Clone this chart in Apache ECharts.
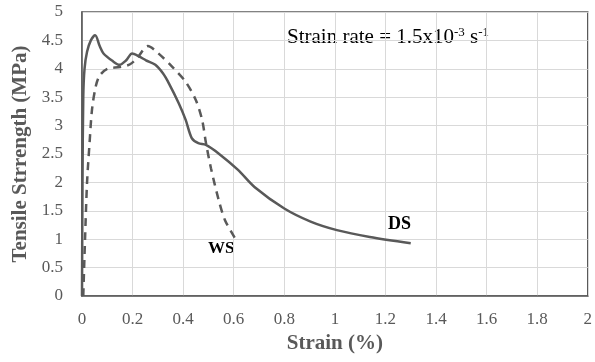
<!DOCTYPE html>
<html><head><meta charset="utf-8">
<script src="https://cdn.jsdelivr.net/npm/echarts@6/dist/echarts.min.js"></script>
<style>html,body{margin:0;padding:0;background:#fff}#c{width:595px;height:362px}</style>
</head><body><div id="c"></div>
<script>
var dsData = [[0,0],[0.002,2.0],[0.005,3.5],[0.01,4.0],[0.02,4.3],[0.035,4.5],[0.052,4.59],[0.07,4.4],[0.085,4.27],[0.12,4.14],[0.148,4.07],[0.175,4.15],[0.198,4.27],[0.225,4.22],[0.253,4.15],[0.29,4.07],[0.32,3.92],[0.344,3.74],[0.383,3.39],[0.41,3.1],[0.434,2.78],[0.46,2.69],[0.49,2.66],[0.54,2.51],[0.617,2.22],[0.682,1.92],[0.8,1.54],[0.904,1.31],[1.008,1.16],[1.138,1.04],[1.3,0.93]];
var wsData = [[0.005,0],[0.012,1.0],[0.02,2.0],[0.03,2.7],[0.04,3.3],[0.055,3.7],[0.07,3.88],[0.1,4.0],[0.15,4.03],[0.19,4.08],[0.22,4.2],[0.26,4.4],[0.3,4.28],[0.36,4.02],[0.41,3.77],[0.45,3.45],[0.475,3.1],[0.49,2.7],[0.51,2.25],[0.54,1.7],[0.565,1.34],[0.605,1.02]];
var seriesNames = ['DS','WS'];
var xTitle = 'Strain (%)';
var yTitle = 'Tensile Strrength (MPa)';
var chart = echarts.init(document.getElementById('c'));
var font = 'Liberation Serif, Times New Roman, serif';
var gray = '#595959';
chart.setOption({
  animation:false,
  grid:{left:82,right:1,top:12,bottom:66,show:true,borderColor:gray,borderWidth:1.5},
  xAxis:{type:'value',min:0,max:2,interval:0.2,
    name:xTitle,nameLocation:'middle',nameGap:33,
    nameTextStyle:{fontFamily:font,fontSize:21,fontWeight:'bold',color:gray},
    axisLine:{lineStyle:{color:gray,width:1.5}},axisTick:{show:false},
    axisLabel:{fontFamily:font,fontSize:17,color:gray,margin:15},
    splitLine:{lineStyle:{color:'#d9d9d9',width:1}}},
  yAxis:{type:'value',min:0,max:5,interval:0.5,
    name:yTitle,nameLocation:'middle',nameGap:50,
    nameTextStyle:{fontFamily:font,fontSize:21,fontWeight:'bold',color:gray},
    axisLine:{show:true,lineStyle:{color:gray,width:1.5}},axisTick:{show:false},
    axisLabel:{fontFamily:font,fontSize:17,color:gray,margin:19},
    splitLine:{lineStyle:{color:'#d9d9d9',width:1}}},
  series:[
    {name:seriesNames[0],type:'line',data:dsData,smooth:0.3,symbol:'none',
     lineStyle:{color:gray,width:2.5}},
    {name:seriesNames[1],type:'line',data:wsData,smooth:0.3,symbol:'none',
     lineStyle:{color:gray,width:2.5,type:[8,6]}}
  ],
  graphic:[
    {type:'text',left:287,top:26,style:{
      text:'{n|Strain rate = 1.5x10}{s|-3}{n| s}{s|-1}',
      rich:{n:{fontFamily:font,fontSize:21,fill:'#000',verticalAlign:'bottom'},
            s:{fontFamily:font,fontSize:13,fill:'#000',padding:[0,0,9,0],verticalAlign:'bottom'}}}},
    {type:'text',left:388,top:215,style:{text:'DS',fontFamily:font,fontSize:18,fontWeight:'bold',fill:'#000'}},
    {type:'text',left:208,top:240,style:{text:'WS',fontFamily:font,fontSize:17,fontWeight:'bold',fill:'#000'}}
  ]
});
</script></body></html>
